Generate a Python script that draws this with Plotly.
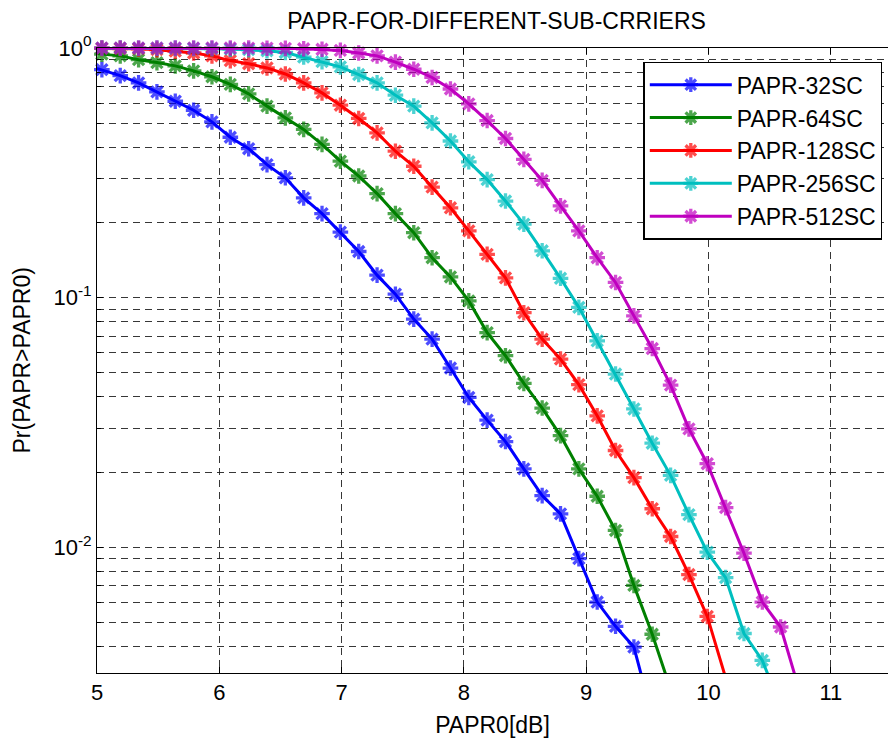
import plotly.graph_objects as go
import numpy as np

# ---------------- data ----------------
papr0_db = [4.89, 5.04, 5.19, 5.34, 5.49, 5.64, 5.79, 5.94, 6.09, 6.24,
            6.39, 6.54, 6.69, 6.84, 6.99, 7.14, 7.29, 7.44, 7.59, 7.74,
            7.89, 8.04, 8.19, 8.34, 8.49, 8.64, 8.79, 8.94, 9.09, 9.24,
            9.39, 9.54, 9.69, 9.84, 9.99, 10.14, 10.29, 10.44, 10.59, 10.74]

ccdf_32 = [0.86, 0.819, 0.775, 0.725, 0.667, 0.612, 0.563, 0.506, 0.439, 0.395,
           0.341, 0.302, 0.251, 0.217, 0.183, 0.153, 0.123, 0.1032, 0.082, 0.0682,
           0.0522, 0.0398, 0.0323, 0.0265, 0.0206, 0.0161, 0.0136, 0.0090, 0.00603, 0.00482,
           0.00398, 0.0021]

ccdf_64 = [0.97, 0.945, 0.93, 0.898, 0.874, 0.848, 0.81, 0.767, 0.715, 0.655,
           0.585, 0.525, 0.472, 0.411, 0.352, 0.307, 0.261, 0.217, 0.182, 0.1445,
           0.121, 0.097, 0.0724, 0.0585, 0.0453, 0.0361, 0.028, 0.0206, 0.016, 0.01167,
           0.00703, 0.00448, 0.0027]

ccdf_128 = [0.998, 0.997, 0.995, 0.992, 0.985, 0.972, 0.955, 0.93, 0.89, 0.865,
            0.832, 0.787, 0.725, 0.661, 0.59, 0.522, 0.457, 0.386, 0.336, 0.277,
            0.229, 0.185, 0.149, 0.120, 0.087, 0.0682, 0.0567, 0.0448, 0.0336, 0.0244,
            0.019, 0.01426, 0.01104, 0.00777, 0.00528, 0.0030]

ccdf_256 = [0.999, 0.999, 0.999, 0.998, 0.998, 0.997, 0.996, 0.994, 0.99, 0.985,
            0.975, 0.96, 0.92, 0.882, 0.84, 0.783, 0.725, 0.647, 0.585, 0.501,
            0.424, 0.35, 0.297, 0.2437, 0.197, 0.154, 0.1195, 0.0914, 0.0671, 0.0494,
            0.0358, 0.0261, 0.0194, 0.0135, 0.00955, 0.00755, 0.00451, 0.00352, 0.0023]

ccdf_512 = [1.0, 1.0, 1.0, 1.0, 1.0, 1.0, 1.0, 1.0, 0.9995, 0.999,
            0.998, 0.997, 0.993, 0.988, 0.978, 0.955, 0.93, 0.878, 0.822, 0.762,
            0.685, 0.597, 0.512, 0.434, 0.358, 0.295, 0.233, 0.185, 0.1445, 0.115,
            0.0845, 0.0625, 0.0446, 0.0298, 0.0216, 0.0144, 0.00946, 0.00603, 0.00479, 0.0027]

series_names = ["PAPR-32SC", "PAPR-64SC", "PAPR-128SC", "PAPR-256SC", "PAPR-512SC"]
series_vals = [ccdf_32, ccdf_64, ccdf_128, ccdf_256, ccdf_512]
series_colors = ["#0000FF", "#008000", "#FF0000", "#00BFBF", "#BF00BF"]

x_tick_vals = [5, 6, 7, 8, 9, 10, 11]
y_decades = [0.01, 0.1, 1.0]
y_decade_labels = ["10<sup>-2</sup>", "10<sup>-1</sup>", "10<sup>0</sup>"]

# ---------------- layout constants ----------------
W, H = 888, 738
ML, MR, MT, MB = 97, 0, 48, 65
PW, PH = W - ML - MR, H - MT - MB
px_per_db = 122.3
x_range = [5, 5 + PW / px_per_db]
y_log_range = [-2.504, 0.0]
FONT = "Liberation Sans, Arial, sans-serif"

fig = go.Figure()
for name, vals, col in zip(series_names, series_vals, series_colors):
    xs = np.array(papr0_db[:len(vals)])
    ys = np.array(vals)
    visible = (xs >= x_range[0]) & (np.log10(ys) >= y_log_range[0] - 1e-9)
    sizes = np.where(visible, 13, 0)
    fig.add_trace(go.Scatter(
        x=xs, y=ys, name=name, mode="lines+markers", legendgroup=name,
        line=dict(color=col, width=3),
        marker=dict(symbol="asterisk-open", size=sizes,
                    line=dict(color=col, width=3.3), color=col),
        cliponaxis=False,
    ))

# minor log grid (2..9 within each decade)
minor_vals = []
for d in [-3, -2, -1]:
    for m in range(2, 10):
        v = m * 10.0 ** d
        if np.log10(v) >= y_log_range[0] - 1e-9:
            minor_vals.append(v)

GRID = "rgba(20,20,20,0.85)"
DASH = "7px,5px"

fig.update_layout(
    width=W, height=H,
    margin=dict(l=ML, r=MR, t=MT, b=MB, autoexpand=False),
    paper_bgcolor="white", plot_bgcolor="white",
    font=dict(family=FONT, size=22, color="black"),
    title=dict(text="PAPR-FOR-DIFFERENT-SUB-CRRIERS",
               x=(496.5 - ML) / PW, xanchor="center", xref="paper",
               y=1 - 20.5 / H, yanchor="middle", yref="container",
               font=dict(size=23)),
    xaxis=dict(range=x_range, tickvals=x_tick_vals,
               showline=True, linecolor="black", linewidth=1, mirror="ticks",
               ticks="inside", ticklen=6, tickcolor="black",
               tickfont=dict(size=22),
               showgrid=True, gridcolor=GRID, gridwidth=1, griddash=DASH,
               zeroline=False,
               title=dict(text="PAPR0[dB]", standoff=13, font=dict(size=23))),
    yaxis=dict(type="log", range=y_log_range, tickvals=y_decades, ticktext=y_decade_labels,
               showline=True, linecolor="black", linewidth=1,
               ticks="inside", ticklen=6, tickcolor="black",
               tickfont=dict(size=22),
               showgrid=True, gridcolor=GRID, gridwidth=1, griddash=DASH,
               zeroline=False,
               minor=dict(tickvals=minor_vals, ticks="inside", ticklen=4,
                          tickcolor="black", showgrid=True, gridcolor=GRID,
                          gridwidth=1, griddash=DASH)),
    annotations=[dict(text="Pr(PAPR>PAPR0)", textangle=-90,
                      xref="paper", yref="paper", x=0, y=0.5,
                      xanchor="center", yanchor="middle",
                      xshift=21 - ML, showarrow=False,
                      font=dict(size=23))],
    legend=dict(x=(882.3 - ML) / PW, xanchor="right",
                y=(H - MB - 61.7) / PH, yanchor="top",
                bgcolor="white", bordercolor="black", borderwidth=1.5,
                font=dict(size=23), itemwidth=82, tracegroupgap=4,
                traceorder="normal"),
    showlegend=True,
)

fig.write_html("out.html")
